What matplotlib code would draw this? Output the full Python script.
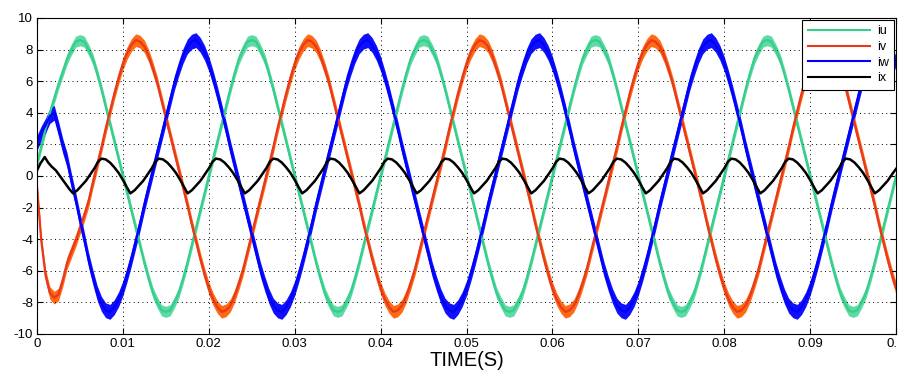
import numpy as np
import matplotlib.pyplot as plt
from matplotlib.ticker import FuncFormatter

# %% phase currents, one sample every 0.5 ms
t = np.linspace(0, 0.1, 201)

iu = [0.8, 1.9, 3.0, 4.0, 4.9, 5.8, 6.6, 7.4, 8.0, 8.5, 8.6, 8.5, 8.0, 7.4, 6.5, 5.5, 4.4, 3.3, 2.2, 1.1,
      0.0, -1.1, -2.2, -3.3, -4.4, -5.5, -6.5, -7.4, -8.0, -8.5, -8.6, -8.5, -8.0, -7.4, -6.5, -5.5, -4.4, -3.3, -2.2, -1.1,
      0.0, 1.1, 2.2, 3.3, 4.4, 5.5, 6.5, 7.4, 8.0, 8.5, 8.6, 8.5, 8.0, 7.4, 6.5, 5.5, 4.4, 3.3, 2.2, 1.1,
      0.0, -1.1, -2.2, -3.3, -4.4, -5.5, -6.5, -7.4, -8.0, -8.5, -8.6, -8.5, -8.0, -7.4, -6.5, -5.5, -4.4, -3.3, -2.2, -1.1,
      0.0, 1.1, 2.2, 3.3, 4.4, 5.5, 6.5, 7.4, 8.0, 8.5, 8.6, 8.5, 8.0, 7.4, 6.5, 5.5, 4.4, 3.3, 2.2, 1.1,
      0.0, -1.1, -2.2, -3.3, -4.4, -5.5, -6.5, -7.4, -8.0, -8.5, -8.6, -8.5, -8.0, -7.4, -6.5, -5.5, -4.4, -3.3, -2.2, -1.1,
      0.0, 1.1, 2.2, 3.3, 4.4, 5.5, 6.5, 7.4, 8.0, 8.5, 8.6, 8.5, 8.0, 7.4, 6.5, 5.5, 4.4, 3.3, 2.2, 1.1,
      0.0, -1.1, -2.2, -3.3, -4.4, -5.5, -6.5, -7.4, -8.0, -8.5, -8.6, -8.5, -8.0, -7.4, -6.5, -5.5, -4.4, -3.3, -2.2, -1.1,
      0.0, 1.1, 2.2, 3.3, 4.4, 5.5, 6.5, 7.4, 8.0, 8.5, 8.6, 8.5, 8.0, 7.4, 6.5, 5.5, 4.4, 3.3, 2.2, 1.1,
      0.0, -1.1, -2.2, -3.3, -4.4, -5.5, -6.5, -7.4, -8.0, -8.5, -8.6, -8.5, -8.0, -7.4, -6.5, -5.5, -4.4, -3.3, -2.2, -1.1,
      0.0]

iv = [-0.7, -4.1, -6.3, -7.4, -7.7, -7.5, -6.6, -5.5, -4.8, -4.1, -3.3, -2.5, -1.6, -0.4, 0.7, 1.8, 3.0, 4.1, 5.2, 6.2,
      7.1, 7.8, 8.3, 8.6, 8.5, 8.2, 7.6, 6.8, 5.9, 4.8, 3.7, 2.6, 1.5, 0.4, -0.7, -1.8, -3.0, -4.1, -5.2, -6.2,
      -7.1, -7.8, -8.3, -8.6, -8.5, -8.2, -7.6, -6.8, -5.9, -4.8, -3.7, -2.6, -1.5, -0.4, 0.7, 1.8, 3.0, 4.1, 5.2, 6.2,
      7.1, 7.8, 8.3, 8.6, 8.5, 8.2, 7.6, 6.8, 5.9, 4.8, 3.7, 2.6, 1.5, 0.4, -0.7, -1.8, -3.0, -4.1, -5.2, -6.2,
      -7.1, -7.8, -8.3, -8.6, -8.5, -8.2, -7.6, -6.8, -5.9, -4.8, -3.7, -2.6, -1.5, -0.4, 0.7, 1.8, 3.0, 4.1, 5.2, 6.2,
      7.1, 7.8, 8.3, 8.6, 8.5, 8.2, 7.6, 6.8, 5.9, 4.8, 3.7, 2.6, 1.5, 0.4, -0.7, -1.8, -3.0, -4.1, -5.2, -6.2,
      -7.1, -7.8, -8.3, -8.6, -8.5, -8.2, -7.6, -6.8, -5.9, -4.8, -3.7, -2.6, -1.5, -0.4, 0.7, 1.8, 3.0, 4.1, 5.2, 6.2,
      7.1, 7.8, 8.3, 8.6, 8.5, 8.2, 7.6, 6.8, 5.9, 4.8, 3.7, 2.6, 1.5, 0.4, -0.7, -1.8, -3.0, -4.1, -5.2, -6.2,
      -7.1, -7.8, -8.3, -8.6, -8.5, -8.2, -7.6, -6.8, -5.9, -4.8, -3.7, -2.6, -1.5, -0.4, 0.7, 1.8, 3.0, 4.1, 5.2, 6.2,
      7.1, 7.8, 8.3, 8.6, 8.5, 8.2, 7.6, 6.8, 5.9, 4.8, 3.7, 2.6, 1.5, 0.4, -0.7, -1.8, -3.0, -4.1, -5.2, -6.2,
      -7.1]

iw = [2.1, 2.7, 3.2, 3.8, 4.0, 3.0, 1.9, 1.0, -0.3, -1.5, -2.8, -4.0, -5.3, -6.4, -7.4, -8.1, -8.5, -8.6, -8.3, -7.8,
      -7.1, -6.2, -5.2, -4.1, -3.0, -1.8, -0.7, 0.4, 1.5, 2.6, 3.7, 4.8, 5.9, 6.8, 7.6, 8.2, 8.5, 8.6, 8.3, 7.8,
      7.1, 6.2, 5.2, 4.1, 3.0, 1.8, 0.7, -0.4, -1.5, -2.6, -3.7, -4.8, -5.9, -6.8, -7.6, -8.2, -8.5, -8.6, -8.3, -7.8,
      -7.1, -6.2, -5.2, -4.1, -3.0, -1.8, -0.7, 0.4, 1.5, 2.6, 3.7, 4.8, 5.9, 6.8, 7.6, 8.2, 8.5, 8.6, 8.3, 7.8,
      7.1, 6.2, 5.2, 4.1, 3.0, 1.8, 0.7, -0.4, -1.5, -2.6, -3.7, -4.8, -5.9, -6.8, -7.6, -8.2, -8.5, -8.6, -8.3, -7.8,
      -7.1, -6.2, -5.2, -4.1, -3.0, -1.8, -0.7, 0.4, 1.5, 2.6, 3.7, 4.8, 5.9, 6.8, 7.6, 8.2, 8.5, 8.6, 8.3, 7.8,
      7.1, 6.2, 5.2, 4.1, 3.0, 1.8, 0.7, -0.4, -1.5, -2.6, -3.7, -4.8, -5.9, -6.8, -7.6, -8.2, -8.5, -8.6, -8.3, -7.8,
      -7.1, -6.2, -5.2, -4.1, -3.0, -1.8, -0.7, 0.4, 1.5, 2.6, 3.7, 4.8, 5.9, 6.8, 7.6, 8.2, 8.5, 8.6, 8.3, 7.8,
      7.1, 6.2, 5.2, 4.1, 3.0, 1.8, 0.7, -0.4, -1.5, -2.6, -3.7, -4.8, -5.9, -6.8, -7.6, -8.2, -8.5, -8.6, -8.3, -7.8,
      -7.1, -6.2, -5.2, -4.1, -3.0, -1.8, -0.7, 0.4, 1.5, 2.6, 3.7, 4.8, 5.9, 6.8, 7.6, 8.2, 8.5, 8.6, 8.3, 7.8,
      7.1]

# %% ix has its own sample times (picked at the corners of the trace)
ix_t = [0.0, 0.0004, 0.0009, 0.0013, 0.0017, 0.0022, 0.0026, 0.0030, 0.0034, 0.0038,
        0.00420, 0.00470, 0.00520, 0.00570, 0.00620, 0.00670, 0.00710, 0.00750, 0.00800, 0.00850, 0.00900, 0.00950, 0.01000, 0.01050,
        0.01087, 0.01137, 0.01187, 0.01237, 0.01287, 0.01337, 0.01377, 0.01417, 0.01467, 0.01517, 0.01567, 0.01617, 0.01667, 0.01717,
        0.01753, 0.01803, 0.01853, 0.01903, 0.01953, 0.02003, 0.02043, 0.02083, 0.02133, 0.02183, 0.02233, 0.02283, 0.02333, 0.02383,
        0.02420, 0.02470, 0.02520, 0.02570, 0.02620, 0.02670, 0.02710, 0.02750, 0.02800, 0.02850, 0.02900, 0.02950, 0.03000, 0.03050,
        0.03087, 0.03137, 0.03187, 0.03237, 0.03287, 0.03337, 0.03377, 0.03417, 0.03467, 0.03517, 0.03567, 0.03617, 0.03667, 0.03717,
        0.03753, 0.03803, 0.03853, 0.03903, 0.03953, 0.04003, 0.04043, 0.04083, 0.04133, 0.04183, 0.04233, 0.04283, 0.04333, 0.04383,
        0.04420, 0.04470, 0.04520, 0.04570, 0.04620, 0.04670, 0.04710, 0.04750, 0.04800, 0.04850, 0.04900, 0.04950, 0.05000, 0.05050,
        0.05087, 0.05137, 0.05187, 0.05237, 0.05287, 0.05337, 0.05377, 0.05417, 0.05467, 0.05517, 0.05567, 0.05617, 0.05667, 0.05717,
        0.05753, 0.05803, 0.05853, 0.05903, 0.05953, 0.06003, 0.06043, 0.06083, 0.06133, 0.06183, 0.06233, 0.06283, 0.06333, 0.06383,
        0.06420, 0.06470, 0.06520, 0.06570, 0.06620, 0.06670, 0.06710, 0.06750, 0.06800, 0.06850, 0.06900, 0.06950, 0.07000, 0.07050,
        0.07087, 0.07137, 0.07187, 0.07237, 0.07287, 0.07337, 0.07377, 0.07417, 0.07467, 0.07517, 0.07567, 0.07617, 0.07667, 0.07717,
        0.07753, 0.07803, 0.07853, 0.07903, 0.07953, 0.08003, 0.08043, 0.08083, 0.08133, 0.08183, 0.08233, 0.08283, 0.08333, 0.08383,
        0.08420, 0.08470, 0.08520, 0.08570, 0.08620, 0.08670, 0.08710, 0.08750, 0.08800, 0.08850, 0.08900, 0.08950, 0.09000, 0.09050,
        0.09087, 0.09137, 0.09187, 0.09237, 0.09287, 0.09337, 0.09377, 0.09417, 0.09467, 0.09517, 0.09567, 0.09617, 0.09667, 0.09717,
        0.09753, 0.09803, 0.09853, 0.09903, 0.09953, 0.10000]
ix = [0.35, 0.8, 1.2, 0.85, 0.6, 0.35, 0.05, -0.25, -0.55, -0.85,
      -1.1, -0.9, -0.6, -0.3, 0.1, 0.5, 0.9, 1.1, 1.05, 0.85, 0.55, 0.2, -0.25, -0.75,
      -1.1, -0.9, -0.6, -0.3, 0.1, 0.5, 0.9, 1.1, 1.05, 0.85, 0.55, 0.2, -0.25, -0.75,
      -1.1, -0.9, -0.6, -0.3, 0.1, 0.5, 0.9, 1.1, 1.05, 0.85, 0.55, 0.2, -0.25, -0.75,
      -1.1, -0.9, -0.6, -0.3, 0.1, 0.5, 0.9, 1.1, 1.05, 0.85, 0.55, 0.2, -0.25, -0.75,
      -1.1, -0.9, -0.6, -0.3, 0.1, 0.5, 0.9, 1.1, 1.05, 0.85, 0.55, 0.2, -0.25, -0.75,
      -1.1, -0.9, -0.6, -0.3, 0.1, 0.5, 0.9, 1.1, 1.05, 0.85, 0.55, 0.2, -0.25, -0.75,
      -1.1, -0.9, -0.6, -0.3, 0.1, 0.5, 0.9, 1.1, 1.05, 0.85, 0.55, 0.2, -0.25, -0.75,
      -1.1, -0.9, -0.6, -0.3, 0.1, 0.5, 0.9, 1.1, 1.05, 0.85, 0.55, 0.2, -0.25, -0.75,
      -1.1, -0.9, -0.6, -0.3, 0.1, 0.5, 0.9, 1.1, 1.05, 0.85, 0.55, 0.2, -0.25, -0.75,
      -1.1, -0.9, -0.6, -0.3, 0.1, 0.5, 0.9, 1.1, 1.05, 0.85, 0.55, 0.2, -0.25, -0.75,
      -1.1, -0.9, -0.6, -0.3, 0.1, 0.5, 0.9, 1.1, 1.05, 0.85, 0.55, 0.2, -0.25, -0.75,
      -1.1, -0.9, -0.6, -0.3, 0.1, 0.5, 0.9, 1.1, 1.05, 0.85, 0.55, 0.2, -0.25, -0.75,
      -1.1, -0.9, -0.6, -0.3, 0.1, 0.5, 0.9, 1.1, 1.05, 0.85, 0.55, 0.2, -0.25, -0.75,
      -1.1, -0.9, -0.6, -0.3, 0.1, 0.5, 0.9, 1.1, 1.05, 0.85, 0.55, 0.2, -0.25, -0.75,
      -1.1, -0.9, -0.6, -0.3, 0.1, 0.45]

labels = ['iu', 'iv', 'iw', 'ix']
# ripple band (half width) seen on each phase current
ripple = [0.35, 0.4, 0.47]

# %% plot
plt.rcParams['font.family'] = ['Liberation Sans', 'DejaVu Sans']
fig = plt.figure(figsize=(8.98, 3.71), dpi=100)
ax = fig.add_axes([37 / 898, 1 - 334 / 371, (896 - 37) / 898, (334 - 18) / 371])

fills = ['#5fd9a6', '#ff6a12', '#1010ff']
edges = ['#35cf8a', '#e8391e', '#0000ff']
handles = []
for y, w, fc, ec in zip([iu, iv, iw], ripple, fills, edges):
    y = np.array(y)
    ax.fill_between(t, y - w, y + w, color=fc, lw=0)
    h, = ax.plot(t, y, color=ec, lw=1.6)
    handles.append(h)
h, = ax.plot(ix_t, ix, color='k', lw=1.8)
handles.append(h)

ax.set_xlim(0, 0.1)
ax.set_ylim(-10, 10)
ax.set_xticks(np.arange(0, 0.1001, 0.01))
ax.set_yticks(np.arange(-10, 11, 2))
fmt = FuncFormatter(lambda v, p: '%g' % round(v, 4))
ax.xaxis.set_major_formatter(fmt)
ax.yaxis.set_major_formatter(fmt)
ax.tick_params(direction='in', top=True, right=True, length=4, labelsize=9.5, pad=3)
ax.grid(True, color='k', linestyle=(0, (1, 3.5)), lw=0.7)
ax.set_xlabel('TIME(S)', fontsize=14.5, labelpad=0.5)

leg = ax.legend(handles, labels, loc='upper right', bbox_to_anchor=(1.0, 1.0),
                borderaxespad=0.15, fancybox=False, edgecolor='k', framealpha=1,
                fontsize=9, handlelength=5.0, handletextpad=0.5,
                labelspacing=0.28, borderpad=0.45)
leg.get_frame().set_linewidth(0.8)
for ln in leg.get_lines():
    ln.set_linewidth(1.5)

fig.savefig('out.png', dpi=100)
